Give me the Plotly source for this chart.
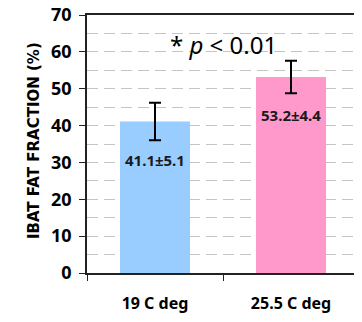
import plotly.graph_objects as go

categories = ["19 C deg", "25.5 C deg"]
means = [41.1, 53.2]
sems = [5.1, 4.4]
colors = ["#99CCFF", "#FF99CC"]
labels = ["41.1±5.1", "53.2±4.4"]
label_offset = 10.4

FONT = "Noto Sans"

fig = go.Figure()
fig.add_trace(go.Bar(
    x=categories, y=means, width=0.515,
    marker=dict(color=colors, line=dict(width=0)),
    error_y=dict(type="data", array=sems, visible=True, color="black", thickness=2, width=6),
))
for c, m, l in zip(categories, means, labels):
    fig.add_annotation(x=c, y=m - label_offset, text="<b>" + l + "</b>", showarrow=False,
                       font=dict(family=FONT, size=15, color="#1a1a1a"))

fig.add_annotation(x=0.5, y=62, xref="x", yref="y", text="* <i>p</i> < 0.01", showarrow=False,
                   font=dict(family=FONT, size=24, color="black"))

fig.add_annotation(x=-0.195, y=0.515, xref="paper", yref="paper", textangle=-90,
                   text="<b>IBAT FAT FRACTION (%)</b>", showarrow=False,
                   xanchor="center", yanchor="middle",
                   font=dict(family="DejaVu Sans", size=15, color="black"))

fig.update_layout(
    width=353, height=306,
    margin=dict(l=79, r=2, t=7, b=41, autoexpand=False),
    plot_bgcolor="white", paper_bgcolor="white",
    showlegend=False,
    font=dict(family=FONT, color="black"),
)
fig.update_yaxes(
    range=[0, 70], dtick=10, tick0=0, automargin=False,
    showline=True, linecolor="#222", linewidth=1.5, mirror=True,
    ticks="outside", ticklen=6, tickcolor="#222",
    tickfont=dict(size=18, family=FONT, weight="bold"),
    ticklabelstandoff=4, ticklabeloverflow="allow",
    showgrid=True, gridcolor="#C4C4C4", griddash="11px,6px", gridwidth=1,
    minor=dict(dtick=5, showgrid=True, gridcolor="#C4C4C4", griddash="11px,6px", gridwidth=1),
    zeroline=False,
)
fig.update_xaxes(
    automargin=False,
    showline=True, linecolor="#222", linewidth=1.5, mirror=True,
    ticks="outside", tickson="boundaries", ticklen=6, tickcolor="#222",
    tickfont=dict(size=16, family=FONT, weight="bold"),
    ticklabelstandoff=15, ticklabeloverflow="allow",
    showgrid=False,
)

fig.write_html("out.html")
